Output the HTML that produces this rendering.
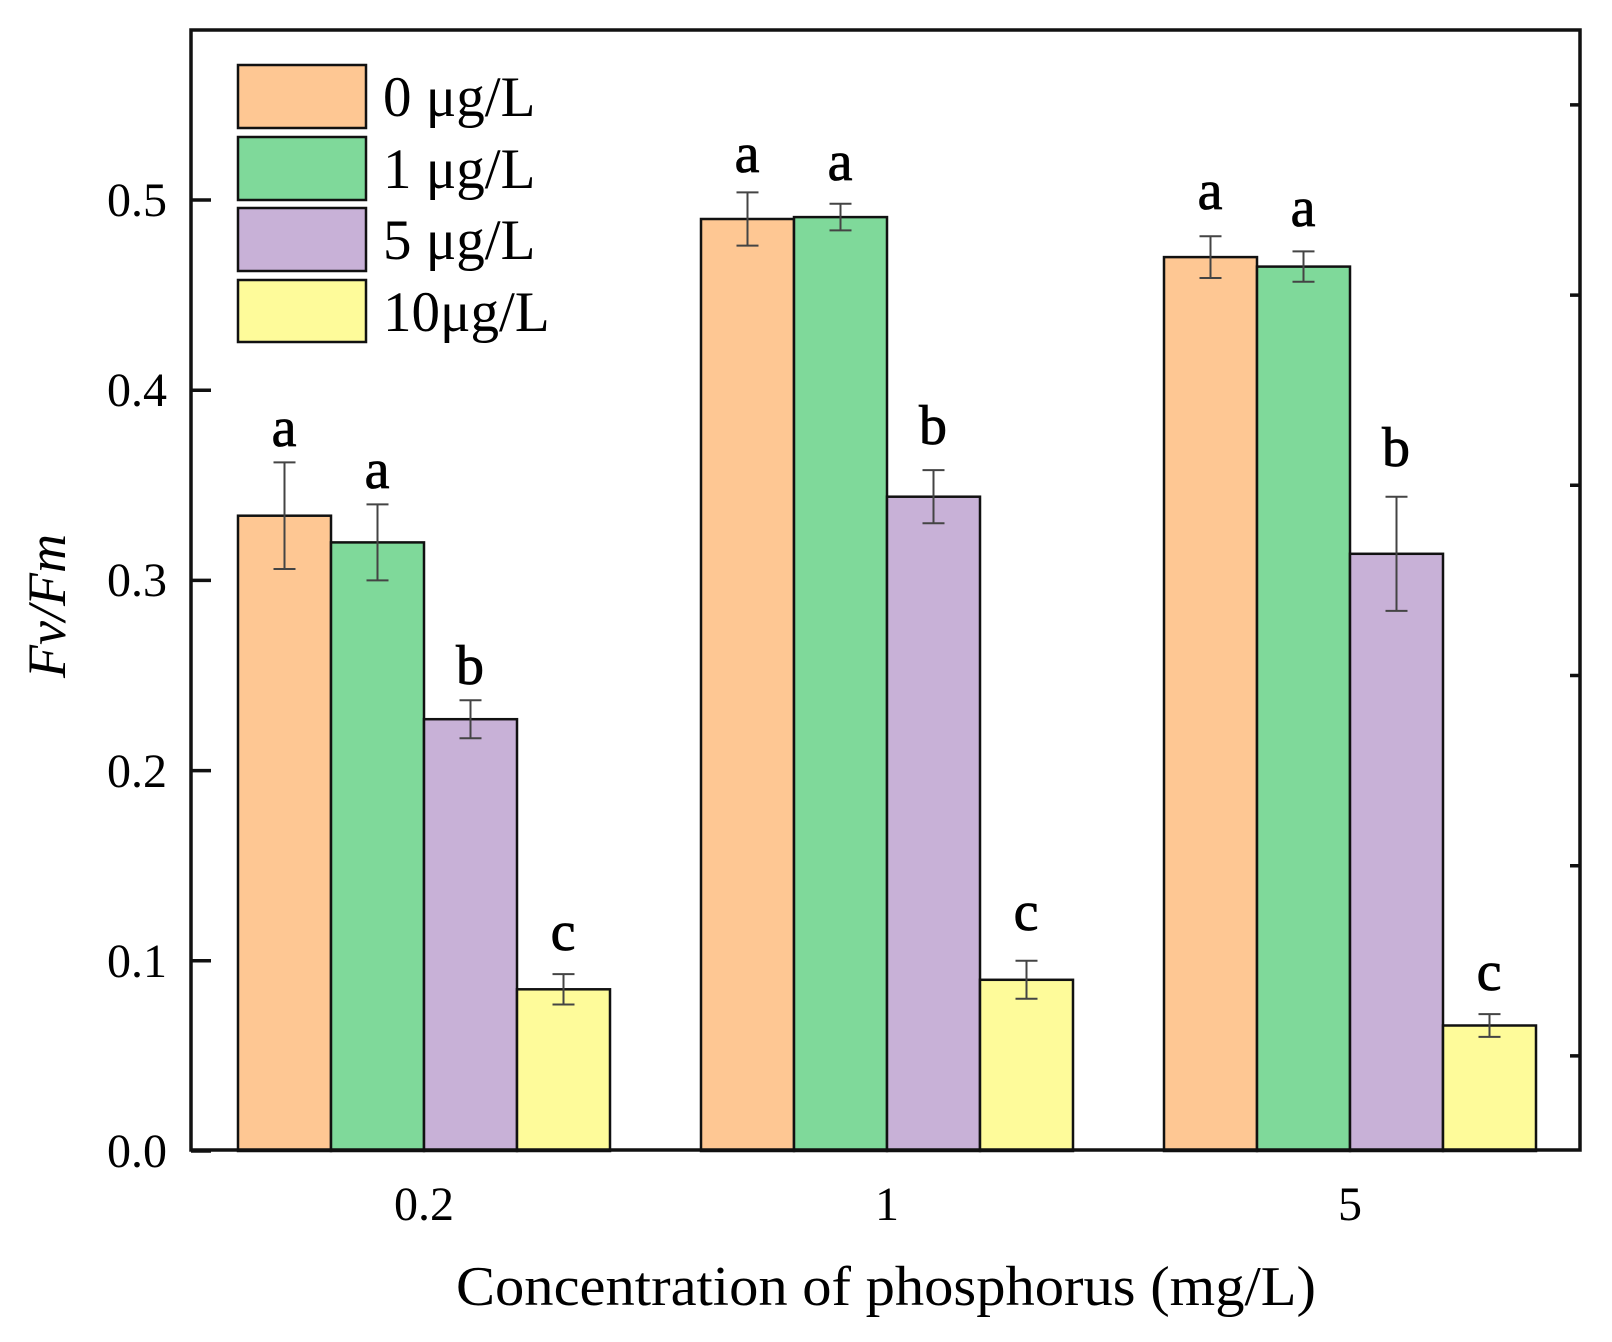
<!DOCTYPE html>
<html><head><meta charset="utf-8"><style>html,body{margin:0;padding:0;background:#fff}svg{display:block}</style></head>
<body>
<svg width="1612" height="1342" viewBox="0 0 1612 1342" xmlns="http://www.w3.org/2000/svg" font-family="'Liberation Serif', serif">
<rect width="1612" height="1342" fill="#fff"/>
<g id="bars" stroke="#111" stroke-width="2.5">
<rect x="238" y="515.7" width="93" height="635.3" fill="#FEC793"/>
<rect x="331" y="542.4" width="93" height="608.6" fill="#7FD99A"/>
<rect x="424" y="719.2" width="93" height="431.8" fill="#C8B1D7"/>
<rect x="517" y="989.3" width="93" height="161.7" fill="#FEFB9A"/>
<rect x="701" y="219.0" width="93" height="932" fill="#FEC793"/>
<rect x="794" y="217.1" width="93" height="933.9" fill="#7FD99A"/>
<rect x="887" y="496.7" width="93" height="654.3" fill="#C8B1D7"/>
<rect x="980" y="979.8" width="93" height="171.2" fill="#FEFB9A"/>
<rect x="1164" y="257.1" width="93" height="893.9" fill="#FEC793"/>
<rect x="1257" y="266.6" width="93" height="884.4" fill="#7FD99A"/>
<rect x="1350" y="553.8" width="93" height="597.2" fill="#C8B1D7"/>
<rect x="1443" y="1025.5" width="93" height="125.5" fill="#FEFB9A"/>
</g>
<g stroke="#444" stroke-width="2" fill="none">
<path d="M284.5 462.4V569M273.5 462.4h22M273.5 569h22"/>
<path d="M377.5 504.4V580.4M366.5 504.4h22M366.5 580.4h22"/>
<path d="M470.5 700.2V738.2M459.5 700.2h22M459.5 738.2h22"/>
<path d="M563.5 974.1V1004.5M552.5 974.1h22M552.5 1004.5h22"/>
<path d="M747.5 192.4V245.6M736.5 192.4h22M736.5 245.6h22"/>
<path d="M840.5 203.8V230.4M829.5 203.8h22M829.5 230.4h22"/>
<path d="M933.5 470.1V523.3M922.5 470.1h22M922.5 523.3h22"/>
<path d="M1026.5 960.8V998.8M1015.5 960.8h22M1015.5 998.8h22"/>
<path d="M1210.5 236.2V278M1199.5 236.2h22M1199.5 278h22"/>
<path d="M1303.5 251.4V281.8M1292.5 251.4h22M1292.5 281.8h22"/>
<path d="M1396.5 496.7V610.9M1385.5 496.7h22M1385.5 610.9h22"/>
<path d="M1489.5 1014.1V1036.9M1478.5 1014.1h22M1478.5 1036.9h22"/>
</g>
<g font-size="56" text-anchor="middle" fill="#000" stroke="#000" stroke-width="0.8">
<text x="284" y="446">a</text><text x="377" y="488">a</text><text x="470" y="684">b</text><text x="563" y="950">c</text>
<text x="747" y="172">a</text><text x="840" y="180">a</text><text x="933" y="444">b</text><text x="1026" y="930">c</text>
<text x="1210" y="209">a</text><text x="1303" y="226">a</text><text x="1396" y="466">b</text><text x="1489" y="990">c</text>
</g>
<rect x="191" y="30" width="1389" height="1120" fill="none" stroke="#111" stroke-width="3.5"/>
<g stroke="#111" stroke-width="3.5">
<path d="M191 1151h20M191 960.8h20M191 770.6h20M191 580.4h20M191 390.2h20M191 200h20"/>
<path d="M1580 1055.9h-10M1580 865.7h-10M1580 675.5h-10M1580 485.3h-10M1580 295.1h-10M1580 104.9h-10"/>
</g>
<g font-size="48" text-anchor="end" fill="#000">
<text x="167" y="1167">0.0</text><text x="167" y="977">0.1</text><text x="167" y="787">0.2</text>
<text x="167" y="596">0.3</text><text x="167" y="406">0.4</text><text x="167" y="216">0.5</text>
</g>
<g font-size="48" text-anchor="middle" fill="#000">
<text x="424" y="1220">0.2</text><text x="887" y="1220">1</text><text x="1350" y="1220">5</text>
</g>
<text x="886" y="1305" font-size="56" text-anchor="middle" textLength="860" lengthAdjust="spacingAndGlyphs">Concentration of phosphorus (mg/L)</text>
<text transform="translate(65,606) rotate(-90)" font-size="54" font-style="italic" text-anchor="middle">Fv/Fm</text>
<g stroke="#111" stroke-width="2.5">
<rect x="238" y="65" width="128" height="63" fill="#FEC793"/>
<rect x="238" y="137" width="128" height="63" fill="#7FD99A"/>
<rect x="238" y="208" width="128" height="63" fill="#C8B1D7"/>
<rect x="238" y="280" width="128" height="62" fill="#FEFB9A"/>
</g>
<g font-size="57" fill="#000">
<text x="383" y="116">0 μg/L</text><text x="383" y="188">1 μg/L</text><text x="383" y="259">5 μg/L</text><text x="383" y="331">10μg/L</text>
</g>
</svg>
</body></html>
